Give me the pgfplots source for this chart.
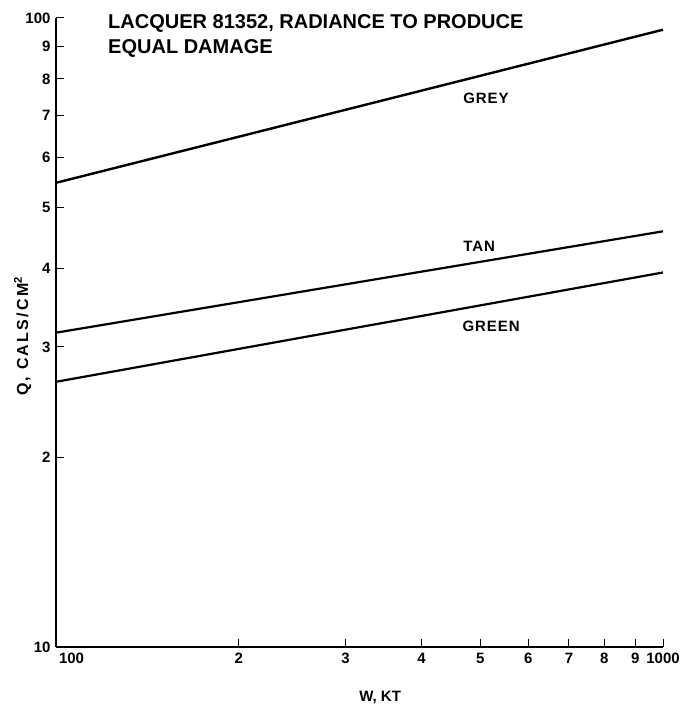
\documentclass[border=0pt]{standalone}
\usepackage{pgfplots}
\pgfplotsset{compat=1.18}
\usepackage{fontspec}
\setmainfont{Liberation Sans}
\begin{document}
\begin{tikzpicture}
\begin{axis}[
  scale only axis,
  width=607pt, height=629pt,
  xmode=log, ymode=log,
  xmin=100, xmax=1000, ymin=10, ymax=100,
  axis lines=left,
  axis line style={-, line width=1.6pt},
  xtick={100,200,300,400,500,600,700,800,900,1000},
  xticklabels={\makebox[0pt][l]{\hspace{3pt}100},2,3,4,5,6,7,8,9,1000},
  ytick={10,20,30,40,50,60,70,80,90,100},
  yticklabels={10,2,3,4,5,6,7,8,9,100},
  minor tick num=0,
  minor tick length=0pt,
  tick align=inside,
  major tick length=8pt,
  tick style={line width=1pt, black},
  ticklabel style={font=\fontsize{15}{15}\selectfont\bfseries},
  xticklabel style={yshift=-3pt},
  yticklabel style={xshift=-2pt},
  xlabel={W, KT},
  xlabel style={at={(axis description cs:0.534,-0.081)}, anchor=center,
    font=\fontsize{15}{15}\selectfont\bfseries},
  ylabel={Q, CALS/CM$^{\mathbf{2}}$},
  ylabel style={at={(axis description cs:-0.055,0.494)}, anchor=center,
    font=\fontsize{16}{16}\selectfont\bfseries\addfontfeatures{LetterSpace=14}},
  clip=false,
]
\addplot[black, line width=2.4pt] coordinates {(100,54.7) (1000,95.8)};
\addplot[black, line width=2.2pt] coordinates {(100,31.6) (1000,45.8)};
\addplot[black, line width=2.2pt] coordinates {(100,26.4) (1000,39.4)};

\node[font=\fontsize{15}{15}\selectfont\bfseries\addfontfeatures{LetterSpace=6}] at (axis cs:511,74.6) {GREY};
\node[font=\fontsize{15}{15}\selectfont\bfseries\addfontfeatures{LetterSpace=6}] at (axis cs:498,43.4) {TAN};
\node[font=\fontsize{15}{15}\selectfont\bfseries\addfontfeatures{LetterSpace=6}] at (axis cs:521,32.4) {GREEN};

\node[anchor=north west, inner sep=0pt, align=left,
  font=\fontsize{20}{25}\selectfont\bfseries]
  at (axis description cs:0.0857,1.0064)
  {LACQUER 81352, RADIANCE TO PRODUCE\\EQUAL DAMAGE};

\coordinate (sw) at (rel axis cs:0,0);
\coordinate (ne) at (rel axis cs:1,1);
\end{axis}
\pgfresetboundingbox
\path ([shift={(-56pt,-66pt)}]sw) rectangle ([shift={(23pt,18pt)}]ne);
\end{tikzpicture}
\end{document}
